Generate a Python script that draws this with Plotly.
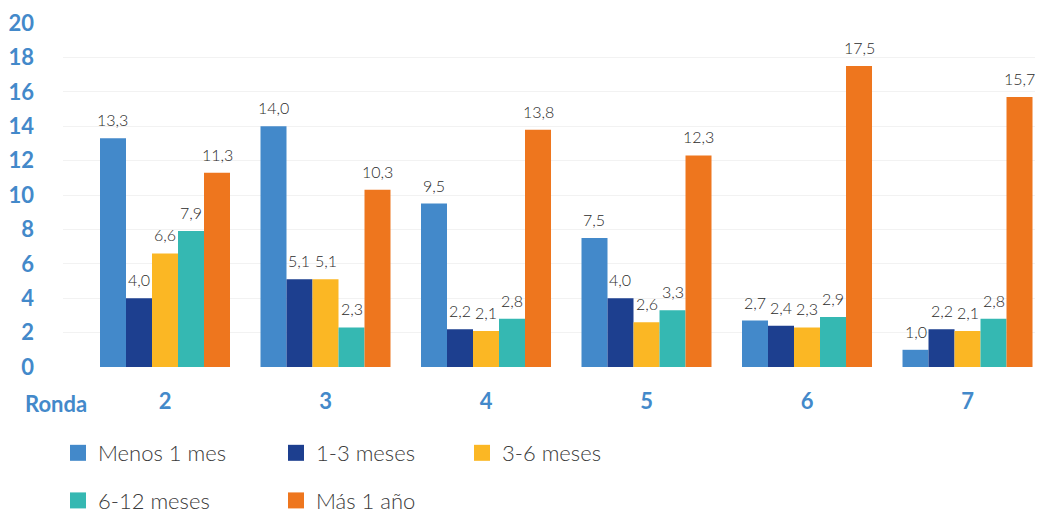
import plotly.graph_objects as go

rondas = ["2", "3", "4", "5", "6", "7"]
menos_1_mes = [13.3, 14.0, 9.5, 7.5, 2.7, 1.0]
de_1_a_3 = [4.0, 5.1, 2.2, 4.0, 2.4, 2.2]
de_3_a_6 = [6.6, 5.1, 2.1, 2.6, 2.3, 2.1]
de_6_a_12 = [7.9, 2.3, 2.8, 3.3, 2.9, 2.8]
mas_1_anio = [11.3, 10.3, 13.8, 12.3, 17.5, 15.7]

series = [
    ("Menos 1 mes", menos_1_mes, "#4389CA", "legend"),
    ("1-3 meses", de_1_a_3, "#1D3F8F", "legend2"),
    ("3-6 meses", de_3_a_6, "#FBB724", "legend3"),
    ("6-12 meses", de_6_a_12, "#35B8B2", "legend"),
    ("Más 1 año", mas_1_anio, "#EE761E", "legend2"),
]

blue = "#4389CA"
W, H = 1027, 530
L, R, T, B = 55, 0, 15, 171
x_range = [-0.6355, 5.4205]
bargap = 0.19

# pixel width of one bar, used to place the value labels over each bar
cat_px = (W - L - R) / (x_range[1] - x_range[0])
bar_px = cat_px * (1 - bargap) / len(series)

fig = go.Figure()
labels = []
for k, (name, vals, color, leg) in enumerate(series):
    fig.add_trace(go.Bar(
        x=rondas, y=vals, name=name, marker=dict(color=color, line=dict(width=0)),
        showlegend=False, hoverinfo="x+y",
    ))
    # legend-only entry with a bigger square swatch
    fig.add_trace(go.Scatter(
        x=[None], y=[None], mode="markers", name=name,
        marker=dict(symbol="square", size=16, color=color),
        legend=leg, legendgroup=name,
    ))
    # category axis: annotations take the category index
    for i, v in enumerate(vals):
        labels.append(dict(
            x=i, y=v, text=f"{v:.1f}".replace(".", ","), showarrow=False,
            xanchor="center", yanchor="bottom", xshift=(k - 2) * bar_px, yshift=7,
            font=dict(size=16, color="#2b2b2b", weight=300),
        ))

labels.append(dict(text="<b>Ronda</b>", xref="paper", yref="paper", x=-0.0408, y=-0.1047,
                   xanchor="left", yanchor="middle", showarrow=False,
                   font=dict(size=22, color=blue)))

leg_common = dict(
    orientation="v", xanchor="left", yanchor="top",
    tracegroupgap=16, font=dict(size=22, color="#3a3a3a", weight=300),
    bgcolor="rgba(0,0,0,0)",
)
pw = W - L - R
fig.update_layout(
    width=W, height=H,
    margin=dict(l=L, r=R, t=T, b=B),
    paper_bgcolor="white", plot_bgcolor="white",
    font=dict(family="Lato, sans-serif"),
    separators=",.",
    barmode="group", bargap=bargap, bargroupgap=0,
    xaxis=dict(type="category", range=x_range, showgrid=False, showline=False, ticks="",
               tickfont=dict(size=22, color=blue, weight="bold"),
               ticklabelstandoff=19, automargin=False),
    yaxis=dict(range=[0, 20], dtick=2, showgrid=True, gridcolor="#f2f2f2", zeroline=False,
               tickfont=dict(size=22, color=blue, weight="bold"), ticklabelstandoff=28,
               automargin=False),
    legend=dict(x=(50 - L) / pw, y=-0.189, **leg_common),
    legend2=dict(x=(268 - L) / pw, y=-0.189, **leg_common),
    legend3=dict(x=(454 - L) / pw, y=-0.189, **leg_common),
    annotations=labels,
)
fig.write_html("out.html")
